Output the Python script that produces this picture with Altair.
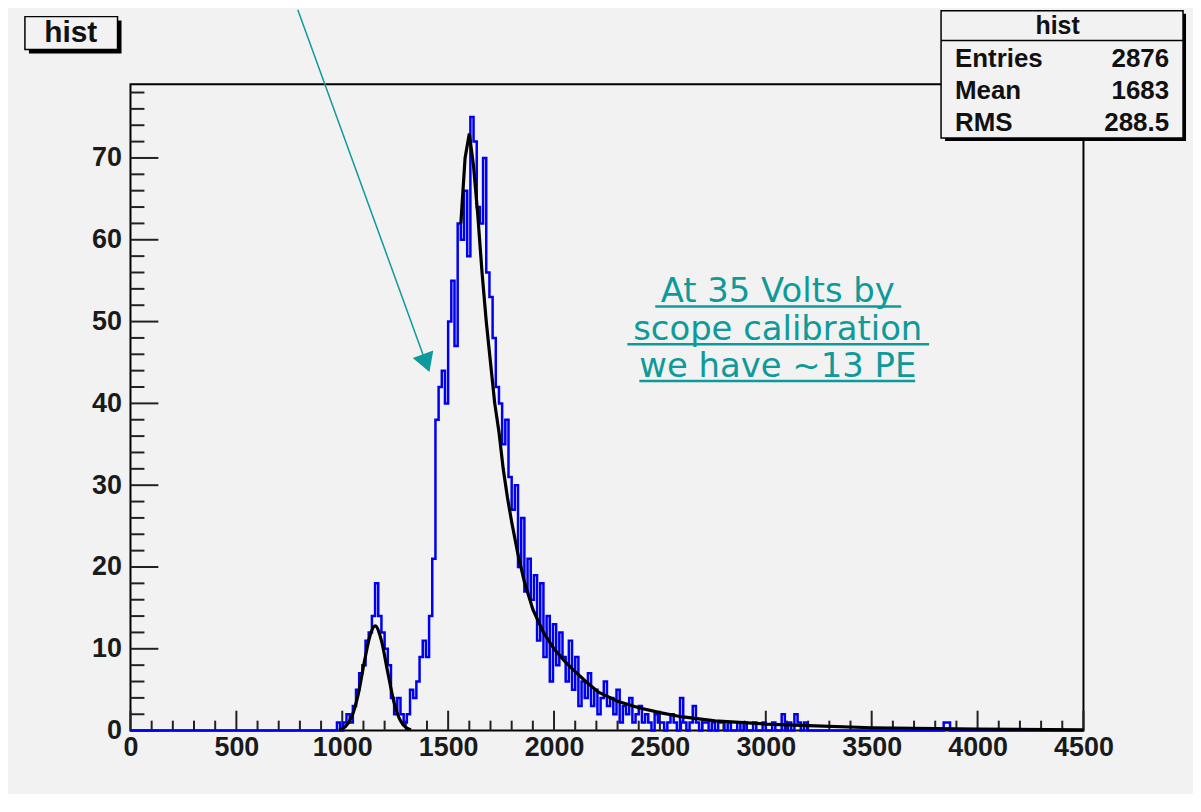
import altair as alt
import pandas as pd

# ---------------- data ----------------
bin_width = 15
main_start = 960
main_counts = [
    0, 1, 0, 1, 2, 1, 3, 5, 7, 8,          # 960-1095
    11, 12, 14, 18, 14, 12, 10, 8, 4, 2,   # 1110-1245
    4, 2, 1, 2, 5, 4, 6, 9, 11, 9,         # 1260-1395
    14, 21, 38, 42, 44, 40, 50, 55, 47, 62,  # 1410-1545
    60, 66, 58, 75, 72, 64, 62, 70, 56, 53,  # 1560-1695
    48, 42, 40, 35, 38, 31, 27, 30, 20, 26,  # 1710-1845
    17, 21, 16, 19, 11, 18, 9, 14, 6, 13,    # 1860-1995
    8, 12, 9, 6, 11, 5, 9, 3, 6, 4,          # 2010-2145
    7, 3, 5, 2, 4, 6, 3, 4, 2, 5,            # 2160-2295
    1, 3, 2, 4, 1, 2, 3, 1, 2, 1,            # 2310-2445
    0, 2, 1, 1, 0, 1, 2, 1, 0, 4,            # 2460-2595
    1, 0, 1, 3, 1, 0, 1, 1, 0, 1,            # 2610-2745
    0, 1, 1, 0, 1, 0, 0, 1, 0, 1,            # 2760-2895
    0, 0, 1, 0, 0, 1, 0, 0, 1, 0,            # 2910-3045
    0, 2, 0, 1, 0, 2, 1, 0, 1, 0,            # 3060-3195
]
tail_edges = [3210, 3840, 3870, 4500]
tail_counts = [0, 1, 0, 0]

gauss_x = [985, 1015, 1045, 1075, 1105, 1130, 1155, 1185, 1215, 1245, 1275, 1305, 1325]
gauss_y = [0.1, 0.5, 1.7, 4.4, 8.5, 11.5, 12.8, 11.0, 7.1, 3.4, 1.2, 0.3, 0.1]

fit_x = [1560, 1580, 1600, 1620, 1640, 1660, 1680, 1700, 1720, 1740, 1760, 1780, 1800,
         1830, 1860, 1900, 1950, 2000, 2050, 2100, 2150, 2210, 2300, 2400, 2500, 2600,
         2760, 3000, 3200, 3500, 4000, 4500]
fit_y = [62, 70, 73, 69, 63, 56, 50, 45, 40, 36.5, 32, 28.5, 25.5,
         21.5, 18.2, 14.8, 12, 10, 8.5, 7.2, 6.0, 4.7, 3.6, 2.8, 2.2, 1.7,
         1.2, 0.8, 0.6, 0.35, 0.2, 0.1]

x_labels = [0, 500, 1000, 1500, 2000, 2500, 3000, 3500, 4000, 4500]
y_labels = [0, 10, 20, 30, 40, 50, 60, 70]
x_minor = [v for v in range(0, 4501, 100) if v % 500 != 0]
y_minor = [v for v in range(0, 79, 2) if v % 10 != 0]

stats_title = "hist"
stats_rows = [("Entries", "2876"), ("Mean", "1683"), ("RMS", "288.5")]
note_lines = ["At 35 Volts by", "scope calibration", "we have ~13 PE"]

# ---------------- build tables ----------------
hist_edges = [0] + [main_start + bin_width * i for i in range(len(main_counts))] + tail_edges
hist_vals = [0] + main_counts + tail_counts
hist_df = pd.DataFrame({"x": hist_edges, "y": hist_vals})
gauss_df = pd.DataFrame({"x": gauss_x, "y": gauss_y})
fit_df = pd.DataFrame({"x": fit_x, "y": fit_y})

W, H = 957, 649
TEAL = "#0e9a9a"
FONT = "Liberation Sans"

xs = alt.Scale(domain=[0, 4500], nice=False, zero=False)
ys = alt.Scale(domain=[0, 79], nice=False, zero=True)

x_axis = alt.Axis(
    values=x_labels, format="d", ticks=False, domain=False, grid=False,
    labelFont=FONT, labelFontSize=27, labelFontWeight="bold", labelColor="#1a1a1a",
    labelPadding=4, labelFlush=False, title=None)
y_axis = alt.Axis(
    values=y_labels, format="d", ticks=False, domain=False, grid=False,
    labelFont=FONT, labelFontSize=27, labelFontWeight="bold", labelColor="#1a1a1a",
    labelPadding=9, title=None)

one = pd.DataFrame({"a": [0]})

hist = alt.Chart(hist_df).mark_line(
    interpolate="step-after", color="#0000f0", strokeWidth=2.5
).encode(
    x=alt.X("x:Q", scale=xs, axis=x_axis),
    y=alt.Y("y:Q", scale=ys, axis=y_axis),
)

gauss = alt.Chart(gauss_df).mark_line(color="black", strokeWidth=3.2, interpolate="monotone").encode(
    x=alt.X("x:Q", scale=xs, axis=x_axis), y=alt.Y("y:Q", scale=ys, axis=y_axis))
fit = alt.Chart(fit_df).mark_line(color="black", strokeWidth=3.2).encode(
    x=alt.X("x:Q", scale=xs, axis=x_axis), y=alt.Y("y:Q", scale=ys, axis=y_axis))

# inner ROOT-style ticks
ymaj = alt.Chart(pd.DataFrame({"y": y_labels})).mark_rule(color="#222", strokeWidth=2).encode(
    y=alt.Y("y:Q", scale=ys, axis=y_axis), x=alt.value(0), x2=alt.value(28))
ymin = alt.Chart(pd.DataFrame({"y": y_minor})).mark_rule(color="#222", strokeWidth=2).encode(
    y=alt.Y("y:Q", scale=ys, axis=y_axis), x=alt.value(0), x2=alt.value(14))
xmaj = alt.Chart(pd.DataFrame({"x": x_labels})).mark_rule(color="#222", strokeWidth=2).encode(
    x=alt.X("x:Q", scale=xs, axis=x_axis), y=alt.value(H), y2=alt.value(H - 20))
xmin = alt.Chart(pd.DataFrame({"x": x_minor})).mark_rule(color="#222", strokeWidth=2).encode(
    x=alt.X("x:Q", scale=xs, axis=x_axis), y=alt.value(H), y2=alt.value(H - 10))

layers = [xmaj, xmin, ymaj, ymin, hist, gauss, fit]

# title box "hist"
base = alt.Chart(one)
layers.append(base.mark_rect(fill="black").encode(
    x=alt.value(-102), x2=alt.value(-9), y=alt.value(-64), y2=alt.value(-31)))
layers.append(base.mark_rect(fill="#f2f2f2", stroke="black", strokeWidth=1.5).encode(
    x=alt.value(-106), x2=alt.value(-13), y=alt.value(-68), y2=alt.value(-35)))
layers.append(base.mark_text(text=stats_title, font=FONT, fontSize=30, fontWeight="bold",
                             color="#111", align="center", baseline="middle").encode(
    x=alt.value(-60), y=alt.value(-52)))

# stats box
layers.append(base.mark_rect(fill="black").encode(
    x=alt.value(818), x2=alt.value(1060), y=alt.value(-71), y2=alt.value(57)))
layers.append(base.mark_rect(fill="#f2f2f2", stroke="black", strokeWidth=1.5).encode(
    x=alt.value(814), x2=alt.value(1057), y=alt.value(-74), y2=alt.value(54)))
layers.append(base.mark_rule(color="black", strokeWidth=1.5).encode(
    x=alt.value(814), x2=alt.value(1057), y=alt.value(-44)))
layers.append(base.mark_text(text=stats_title, font=FONT, fontSize=25, fontWeight="bold",
                             color="#111", align="center", baseline="middle").encode(
    x=alt.value(931), y=alt.value(-59)))
row_y = [-25, 7, 39]
for (lab, val), yy in zip(stats_rows, row_y):
    layers.append(base.mark_text(text=lab, font=FONT, fontSize=26, fontWeight="bold",
                                 color="#111", align="left", baseline="middle").encode(
        x=alt.value(828), y=alt.value(yy)))
    layers.append(base.mark_text(text=val, font=FONT, fontSize=26, fontWeight="bold",
                                 color="#111", align="right", baseline="middle").encode(
        x=alt.value(1043), y=alt.value(yy)))

# arrow
layers.append(base.mark_rule(color=TEAL, strokeWidth=1.5).encode(
    x=alt.value(168), y=alt.value(-75), x2=alt.value(294), y2=alt.value(272)))
layers.append(base.mark_point(shape="triangle-down", filled=True, size=480, angle=340,
                              color=TEAL, opacity=1).encode(
    x=alt.value(297), y=alt.value(280)))

# annotation text with underline
note_y = [219, 257, 294]
note_ul = [(527, 774), (499, 802), (511, 788)]
for txt, yy, (u0, u1) in zip(note_lines, note_y, note_ul):
    layers.append(base.mark_text(text=txt, font="DejaVu Sans", fontSize=34, color=TEAL,
                                 align="center", baseline="alphabetic").encode(
        x=alt.value(650), y=alt.value(yy)))
    layers.append(base.mark_rule(color=TEAL, strokeWidth=2.5).encode(
        x=alt.value(u0), x2=alt.value(u1), y=alt.value(yy + 4)))

chart = alt.layer(*layers).properties(
    width=W, height=H,
    background="#f2f2f2",
    autosize="none",
    padding={"left": 123, "top": 75, "right": 110, "bottom": 62},
).configure_view(stroke="black", strokeWidth=2, fill="#f2f2f2")

chart.save("out.html", embed_options={"renderer": "svg", "actions": False})
